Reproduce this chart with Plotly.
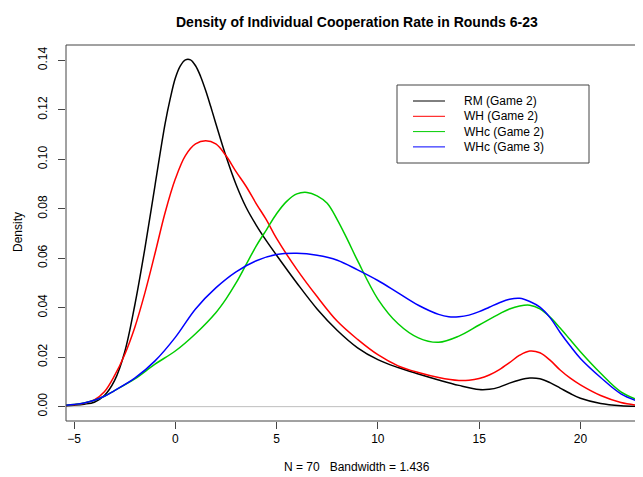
import plotly.graph_objects as go

# ---- data ----
rm_x = [-5.4, -5, -4.5, -4, -3.5, -3, -2.5, -2, -1.5, -1, -0.5, -0.25, 0, 0.25, 0.5, 0.75, 1,
        1.25, 1.5, 1.75, 2, 2.5, 3, 3.5, 4, 4.5, 5, 6, 7, 8, 9, 10, 11, 12, 13, 14, 15, 15.5, 16,
        16.5, 17, 17.5, 18, 18.5, 19, 19.5, 20, 21, 22, 23]
rm_y = [0.0004, 0.0006, 0.001, 0.0018, 0.0045, 0.0105, 0.022, 0.041, 0.064, 0.0895, 0.1145,
        0.1245, 0.1328, 0.1378, 0.1402, 0.1402, 0.1378, 0.1335, 0.1278, 0.1213, 0.1145, 0.1013,
        0.0898, 0.0805, 0.0733, 0.067, 0.0612, 0.050, 0.0395, 0.0308, 0.0238, 0.019, 0.0158,
        0.0132, 0.0108, 0.0086, 0.0069, 0.0070, 0.0079, 0.0095, 0.0108, 0.0116, 0.0113, 0.0097,
        0.0075, 0.0053, 0.0034, 0.0013, 0.0004, 0.0001]

wh_x = [-5.4, -5, -4.5, -4, -3.5, -3, -2.5, -2, -1.5, -1, -0.5, 0, 0.5, 1, 1.5, 2, 2.5, 3, 3.5,
        4, 4.5, 5, 6, 7, 8, 9, 10, 11, 12, 13, 14, 14.5, 15, 15.5, 16, 16.5, 17, 17.5, 18, 18.5,
        19, 19.5, 20, 21, 22, 23]
wh_y = [0.0005, 0.0008, 0.0014, 0.0027, 0.006, 0.0125, 0.021, 0.032, 0.046, 0.062, 0.0785, 0.092,
        0.1015, 0.1062, 0.1075, 0.1062, 0.1015, 0.095, 0.089, 0.082, 0.0755, 0.068, 0.0555,
        0.0445, 0.0345, 0.0272, 0.021, 0.0165, 0.0138, 0.0118, 0.0106, 0.0107, 0.0114, 0.0128,
        0.015, 0.0178, 0.0208, 0.0225, 0.0218, 0.0188, 0.0148, 0.0115, 0.0088, 0.0045, 0.0017,
        0.0004]

whc2_x = [-5.4, -5, -4.5, -4, -3.5, -3, -2, -1, 0, 1, 2, 2.5, 3, 3.5, 4, 4.5, 5, 5.5, 6, 6.5, 7,
          7.5, 8, 8.5, 9, 10, 11, 12, 13, 14, 15, 16, 16.5, 17, 17.5, 18, 18.5, 19, 19.5, 20, 21,
          22, 23]
whc2_y = [0.0006, 0.0009, 0.0015, 0.0026, 0.0042, 0.0065, 0.0112, 0.0172, 0.0225, 0.0295, 0.038,
          0.0435, 0.050, 0.0575, 0.065, 0.0715, 0.078, 0.083, 0.086, 0.0866, 0.0852, 0.0822,
          0.0755, 0.0675, 0.059, 0.0435, 0.0335, 0.0278, 0.026, 0.0285, 0.033, 0.0375, 0.0395,
          0.0407, 0.041, 0.0395, 0.0362, 0.0318, 0.027, 0.0222, 0.0135, 0.006, 0.0022]

whc3_x = [-5.4, -5, -4.5, -4, -3.5, -3, -2, -1, 0, 1, 2, 3, 4, 5, 6, 7, 8, 9, 10, 11, 12, 13,
          13.5, 14, 14.5, 15, 15.5, 16, 16.5, 17, 17.5, 18, 18.5, 19, 19.5, 20, 21, 22, 23]
whc3_y = [0.0006, 0.0009, 0.0015, 0.0026, 0.0042, 0.0065, 0.0115, 0.0185, 0.028, 0.0395, 0.048,
          0.0545, 0.059, 0.0615, 0.062, 0.0612, 0.0592, 0.0553, 0.051, 0.046, 0.041, 0.0373,
          0.0363, 0.0363, 0.0370, 0.0384, 0.0402, 0.0420, 0.0434, 0.0438, 0.0425, 0.0402, 0.036,
          0.030, 0.0245, 0.0195, 0.0118, 0.0052, 0.0017]

series_names = ["RM (Game 2)", "WH (Game 2)", "WHc (Game 2)", "WHc (Game 3)"]
series_colors = ["#000000", "#FF0000", "#00CD00", "#0000FF"]
x_ticks = [-5, 0, 5, 10, 15, 20]
y_ticks = [0.00, 0.02, 0.04, 0.06, 0.08, 0.10, 0.12, 0.14]
y_tick_labels = ["0.00", "0.02", "0.04", "0.06", "0.08", "0.10", "0.12", "0.14"]

title_text = "Density of Individual Cooperation Rate in Rounds 6-23"
x_label = "N = 70   Bandwidth = 1.436"
y_label = "Density"

# ---- figure ----
# the page body has an 8px margin, so the figure is placed at (8, 8) in the window
OFF = 8
WIN_W, WIN_H = 643, 477
W, H = WIN_W - OFF, WIN_H - OFF
PL, PR, PT, PB = 66, 643, 45, 421          # plot box in window pixels
L, T = PL - OFF, PT - OFF
R = (WIN_W - PR)
B = H - (PB - OFF)
FONT = "Liberation Sans, Arial, sans-serif"

fig = go.Figure()
fig.add_trace(go.Scatter(x=[-6, 24], y=[0, 0], mode="lines",
                         line=dict(color="#BEBEBE", width=1), showlegend=False, hoverinfo="skip"))
for xs, ys, nm, col in zip([rm_x, wh_x, whc2_x, whc3_x], [rm_y, wh_y, whc2_y, whc3_y],
                           series_names, series_colors):
    fig.add_trace(go.Scatter(x=xs, y=ys, mode="lines", name=nm,
                             line=dict(color=col, width=1.5, shape="spline", smoothing=1.0),
                             showlegend=False))

pw = PR - PL
ph = PB - PT


def px(xp):  # window pixel -> paper x
    return (xp - PL) / pw


def py(yp):  # window pixel -> paper y
    return (PB - yp) / ph


shapes = []
annotations = []
shapes.append(dict(type="rect", xref="paper", yref="paper", x0=0, x1=1.05, y0=0, y1=1,
                   line=dict(color="#444444", width=1)))
shapes.append(dict(type="rect", xref="paper", yref="paper", x0=px(397), x1=px(589),
                   y0=py(163), y1=py(85), line=dict(color="#444444", width=1),
                   fillcolor="white"))
for i, (nm, col) in enumerate(zip(series_names, series_colors)):
    yy = 101 + 15.3 * i
    shapes.append(dict(type="line", xref="paper", yref="paper", x0=px(413), x1=px(445),
                       y0=py(yy), y1=py(yy), line=dict(color=col, width=1)))
    annotations.append(dict(text=nm, xref="paper", yref="paper", x=px(462), y=py(yy),
                            xanchor="left", yanchor="middle", showarrow=False,
                            font=dict(family=FONT, size=12, color="#000000")))

annotations.append(dict(text="<b>" + title_text + "</b>", xref="paper", yref="paper",
                        x=px(357), y=py(22), xanchor="center", yanchor="middle",
                        showarrow=False, font=dict(family=FONT, size=14, color="#000000")))
annotations.append(dict(text=x_label, xref="paper", yref="paper", x=px(357), y=py(467),
                        xanchor="center", yanchor="middle", showarrow=False,
                        font=dict(family=FONT, size=12, color="#000000")))
annotations.append(dict(text=y_label, xref="paper", yref="paper", x=px(18), y=py(232),
                        xanchor="center", yanchor="middle", showarrow=False, textangle=-90,
                        font=dict(family=FONT, size=12, color="#000000")))

fig.update_layout(
    width=W, height=H,
    margin=dict(l=L, r=R, t=T, b=B, pad=0),
    paper_bgcolor="white", plot_bgcolor="white",
    shapes=shapes, annotations=annotations,
    showlegend=False,
    font=dict(family=FONT, size=12, color="#000000"),
    xaxis=dict(range=[-5.395, 23.09], tickvals=x_ticks, ticks="outside", ticklen=7,
               tickcolor="#444444", showgrid=False, zeroline=False, showline=False,
               tickfont=dict(family=FONT, size=12), fixedrange=True),
    yaxis=dict(range=[-0.0058, 0.1462], tickvals=y_ticks, ticktext=y_tick_labels,
               ticks="outside", ticklen=7, tickcolor="#444444", showgrid=False,
               zeroline=False, showline=False, tickangle=-90, ticklabelstandoff=6,
               tickfont=dict(family=FONT, size=12), fixedrange=True),
)

fig.write_html("out.html")
